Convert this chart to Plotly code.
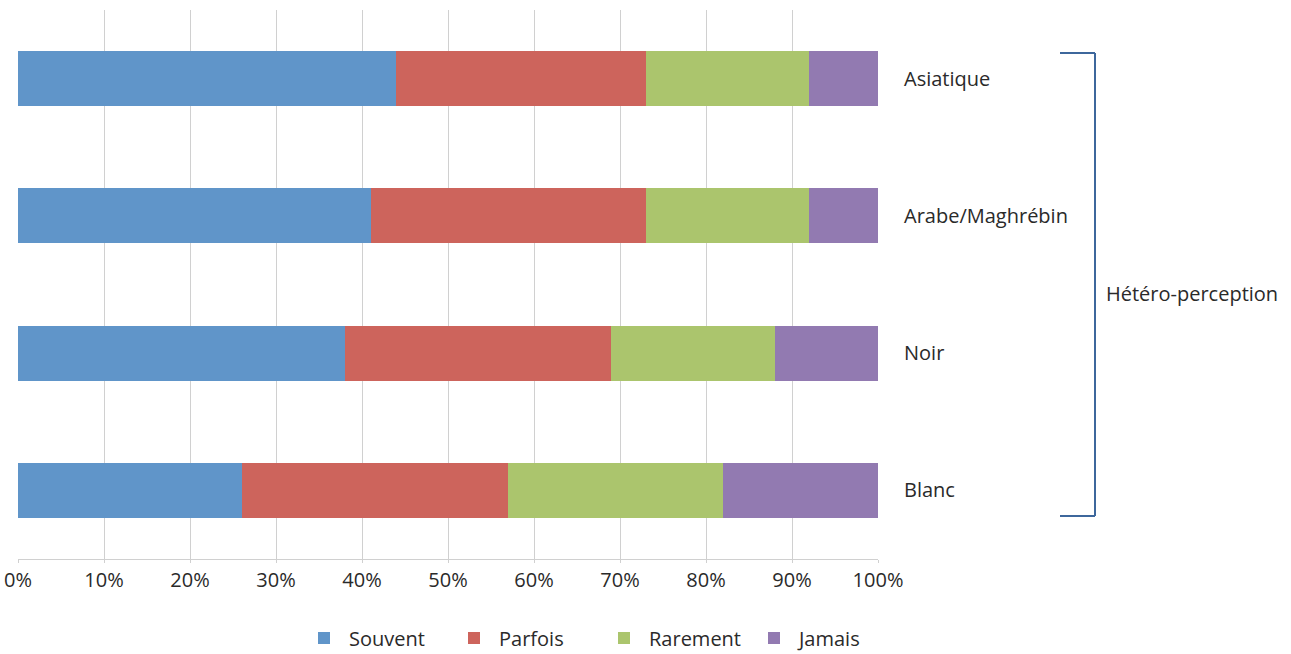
import plotly.graph_objects as go

categories = ["Blanc", "Noir", "Arabe/Maghrébin", "Asiatique"]
souvent = [26, 38, 41, 44]
parfois = [31, 31, 32, 29]
rarement = [25, 19, 19, 19]
jamais = [18, 12, 8, 8]
series_names = ["Souvent", "Parfois", "Rarement", "Jamais"]
colors = ["#6095C9", "#CD645C", "#ABC56D", "#927AB1"]
tick_vals = [0, 10, 20, 30, 40, 50, 60, 70, 80, 90, 100]
tick_text = [f"{v}%" for v in tick_vals]
group_label = "Hétéro-perception"

W, H = 1291, 654
ml, mr, mt, mb = 18, 413, 10, 95
pw, ph = W - ml - mr, H - mt - mb

fig = go.Figure()
for name, vals, col in zip(series_names, [souvent, parfois, rarement, jamais], colors):
    fig.add_trace(go.Bar(y=categories, x=vals, name=name, orientation="h",
                         marker=dict(color=col, line=dict(width=0))))

def px_x(x):
    return (x - ml) / pw

def px_y(y):
    return (H - mb - y) / ph

line_col = "#3D679C"
bx0, bx1, by0, by1 = 1060, 1095, 53, 516
for (a, b, c, d) in [(bx0, by0, bx1, by0), (bx1, by0, bx1, by1), (bx0, by1, bx1, by1)]:
    fig.add_shape(type="line", xref="paper", yref="paper",
                  x0=px_x(a), y0=px_y(b), x1=px_x(c), y1=px_y(d),
                  line=dict(color=line_col, width=2))

fig.add_annotation(text=group_label, xref="paper", yref="paper",
                   x=px_x(1104), y=px_y(293), xanchor="left", yanchor="middle",
                   showarrow=False, font=dict(size=20, color="#2a2a2a"))

fig.update_layout(
    width=W, height=H, barmode="stack", bargap=0.6,
    margin=dict(l=ml, r=mr, t=mt, b=mb, autoexpand=False),
    paper_bgcolor="white", plot_bgcolor="white",
    font=dict(family="Open Sans, DejaVu Sans, sans-serif", size=20, color="#2a2a2a"),
    xaxis=dict(range=[0, 100], tickvals=tick_vals, ticktext=tick_text,
               showgrid=True, gridcolor="#D0D0D0", gridwidth=1,
               showline=True, linecolor="#D0D0D0", linewidth=1,
               ticks="outside", ticklen=3, tickcolor="#D0D0D0",
               zeroline=False, fixedrange=True, automargin=False),
    yaxis=dict(side="right", showgrid=False, showline=False, ticks="",
               ticklabelstandoff=25, zeroline=False, automargin=False,
               categoryorder="array", categoryarray=categories),
    legend=dict(orientation="h", x=px_x(599), y=px_y(638),
                xanchor="center", yanchor="middle", traceorder="normal",
                itemwidth=40, entrywidth=95, entrywidthmode="pixels",
                font=dict(size=20, color="#2a2a2a")),
)

fig.write_html("out.html")
